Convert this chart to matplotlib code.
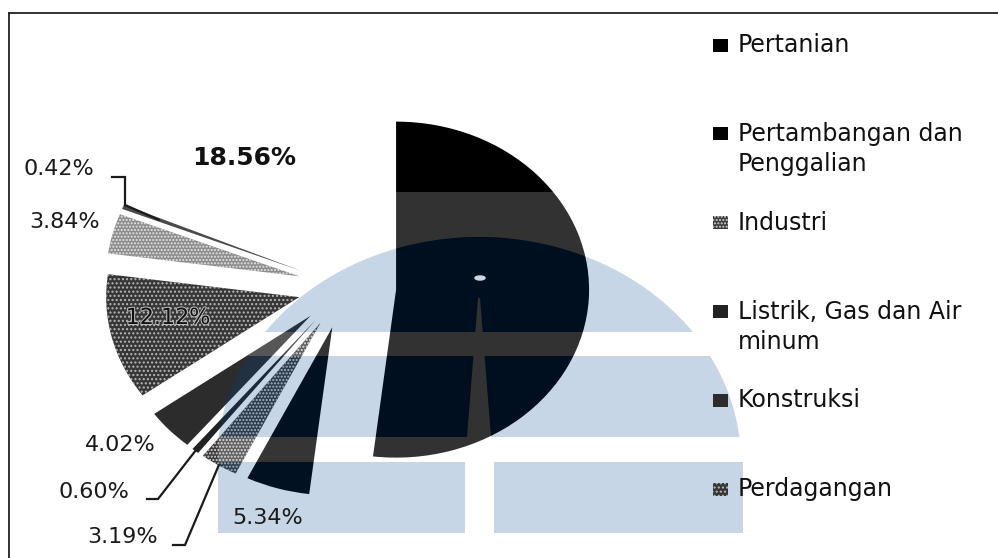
import numpy as np
import matplotlib.pyplot as plt
import matplotlib.patheffects as pe
from matplotlib.patches import Rectangle, Polygon, Ellipse
from matplotlib.lines import Line2D

plt.rcParams['font.family'] = ['DejaVu Sans']
plt.rcParams['hatch.linewidth'] = 1.0

# data (order as drawn, clockwise from 12 o'clock)
sectors = ["Pertanian", "Pertambangan dan\nPenggalian", "Industri",
           "Listrik, Gas dan Air\nminum", "Konstruksi", "Perdagangan",
           "Pengangkutan dan Komunikasi", "Keuangan", "Jasa-jasa"]
shares = [51.91, 5.34, 3.19, 0.60, 4.02, 12.12, 3.84, 0.42, 18.56]
colors = ['#000000', '#030303', '#3a3a3a', '#222222', '#2c2c2c',
          '#363636', '#8c8c8c', '#4a4a4a', '#ffffff']
hatches = [None, None, '.....', None, None, '....', '.....', None, None]
hatch_cols = [None, None, '#d8d8d8', None, None, '#b8b8b8', '#e6e6e6', None, None]
explode = [0.26, 0.25, 0.25, 0.25, 0.25, 0.25, 0.25, 0.25, 0.25]
n_legend = 6  # the rest of the legend is cropped in the source

W, H = 998, 558
cx, cy, rx, ry = 346, 287, 193, 168   # pie centre / radii in pixels


def to_data(px, py):
    return (px - cx) / rx, (cy - py) / ry


fig = plt.figure(figsize=(W / 100, H / 100), dpi=100)
ax = fig.add_axes([0, 0, 1, 1])
wedges, _ = ax.pie(shares, explode=explode, colors=colors, startangle=90,
                   counterclock=False, wedgeprops=dict(linewidth=0))
for w, h, hc in zip(wedges, hatches, hatch_cols):
    if h:
        w.set_hatch(h)
        w.set_edgecolor(hc)
        w.set_linewidth(0)
ax.set_xlim(-cx / rx, (W - cx) / rx)
ax.set_ylim(-(H - cy) / ry, cy / ry)
ax.set_aspect('auto')
ax.axis('off')


def wedge_point(w, frac):
    mid = np.deg2rad((w.theta1 + w.theta2) / 2)
    return (w.center[0] + frac * w.r * np.cos(mid),
            w.center[1] + frac * w.r * np.sin(mid))


# ---- percentage labels ----
label_pos = {1: (268, 518), 2: (123, 537), 3: (94, 492), 4: (120, 445),
             5: (168, 318), 6: (65, 222), 7: (59, 169), 8: (244, 158)}
for i, (px, py) in label_pos.items():
    txt = f"{shares[i]:.2f}%"
    x, y = to_data(px, py)
    if i == 8:
        ax.text(x, y, txt, fontsize=18, fontweight='bold', color='#111',
                ha='center', va='center', zorder=6)
    elif i == 5:
        ax.text(x, y, txt, fontsize=16, color='#111',
                ha='center', va='center', zorder=6,
                path_effects=[pe.withStroke(linewidth=1.5, foreground='#bdbdbd')])
    else:
        ax.text(x, y, txt, fontsize=16, color='#1a1a1a',
                ha='center', va='center', zorder=6)

# leader lines: elbow from label, then to the slice
leaders = {7: ([(112, 177), (125, 177), (125, 205)], 0.8),
           3: ([(147, 499), (158, 499)], 1.0),
           2: ([(173, 545), (185, 545)], 1.0)}
for i, (elbow, frac) in leaders.items():
    pts = [to_data(x, y) for x, y in elbow] + [wedge_point(wedges[i], frac)]
    ax.plot([p[0] for p in pts], [p[1] for p in pts], color='#1a1a1a',
            lw=1.6, solid_joinstyle='miter', zorder=6)

# ---- legend (manual, Excel-like spacing) ----
for i in range(n_legend):
    ly = 45 + 88.8 * i
    x0, y0 = to_data(713, ly + 6.5)
    sq = Rectangle((x0, y0), 15 / rx, 13 / ry, facecolor=colors[i],
                   edgecolor=hatch_cols[i] or colors[i], lw=0,
                   hatch=hatches[i], zorder=6)
    ax.add_patch(sq)
    nl = sectors[i].count('\n')
    tx, ty = to_data(738, ly + nl * 15.5)
    ax.text(tx, ty, sectors[i], fontsize=17, color='#111', ha='left',
            va='center', linespacing=1.3, zorder=6)

# ---- scanned watermark (light blue dome with white stripes) ----
wm_xc, wm_yc, wm_a, wm_b = 479, 462, 262, 225
spike_top = 298


def arc_x(y, side):
    return wm_xc + side * wm_a * np.sqrt(np.clip(1 - ((y - wm_yc) / wm_b) ** 2, 0, 1))


def arc_y(x):
    return wm_yc - wm_b * np.sqrt(np.clip(1 - ((x - wm_xc) / wm_a) ** 2, 0, 1))


def spike_x(y, side):
    t = max(0.0, (y - spike_top) / (437 - spike_top))
    return wm_xc + side * (1 + 11 * t)


ys = np.linspace(wm_yc - wm_b, 332, 60)
band_a = ([(arc_x(y, -1), y) for y in ys]
          + [(spike_x(332, -1), 332), (spike_x(spike_top, -1), spike_top),
             (spike_x(spike_top, 1), spike_top), (spike_x(332, 1), 332)]
          + [(arc_x(y, 1), y) for y in ys[::-1]])
ys = np.linspace(356, 437, 40)
band_b_left = [(arc_x(y, -1), y) for y in ys] + [(spike_x(437, -1), 437), (spike_x(356, -1), 356)]
band_b_right = [(spike_x(356, 1), 356), (spike_x(437, 1), 437)] + [(arc_x(y, 1), y) for y in ys[::-1]]
rect_l = [(218, 462), (218, 533), (465, 533), (465, 462)]
rect_r = [(494, 462), (494, 533), (743, 533), (743, 462)]
blue_parts = [band_a, band_b_left, band_b_right, rect_l, rect_r]

xs = np.linspace(300, 700, 80)
white_parts = [
    [(300, 192), (700, 192)] + [(x, arc_y(x)) for x in xs[::-1]],
    [(arc_x(332, -1), 332), (arc_x(332, 1), 332), (arc_x(356, 1), 356), (arc_x(356, -1), 356)],
    [(arc_x(437, -1), 437), (arc_x(437, 1), 437), (743, 462), (218, 462)],
    [(spike_x(spike_top, -1), spike_top), (spike_x(spike_top, 1), spike_top),
     (spike_x(332, 1), 332), (spike_x(332, -1), 332)],
    [(spike_x(356, -1), 356), (spike_x(356, 1), 356),
     (spike_x(437, 1), 437), (spike_x(437, -1), 437)],
    [(465, 462), (494, 462), (494, 533), (465, 533)],
]

for part in blue_parts:
    ax.add_patch(Polygon([to_data(x, y) for x, y in part], closed=True,
                         facecolor=(0.0, 0.28, 0.57), alpha=0.22, lw=0, zorder=3))
for part in white_parts:
    ax.add_patch(Polygon([to_data(x, y) for x, y in part], closed=True,
                         facecolor='white', alpha=0.2, lw=0, zorder=3))
ax.add_patch(Ellipse(to_data(480, 278), 10 / rx, 4 / ry, color='#cdd8e6', zorder=3))

# chart border (right and bottom edges are cropped)
bx, by = 8.5 / W, 1 - 13 / H
fig.add_artist(Line2D([bx, bx], [0, by], color='#222', lw=1.3))
fig.add_artist(Line2D([bx, 1], [by, by], color='#222', lw=1.3))

fig.savefig('out.png', dpi=100)
